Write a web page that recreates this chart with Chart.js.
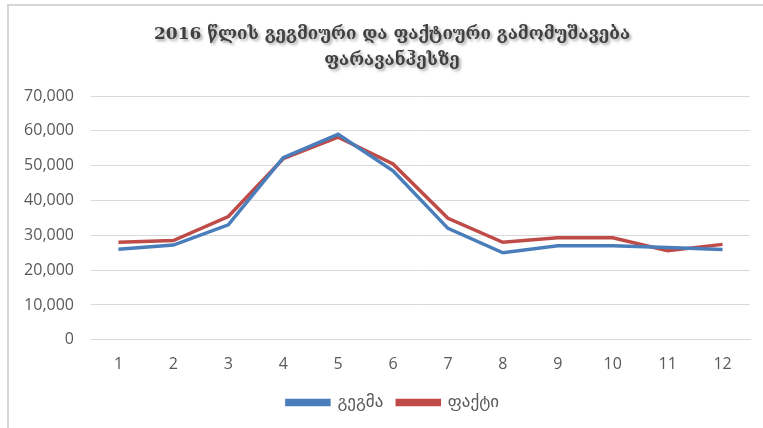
<!DOCTYPE html>
<html>
<head>
<meta charset="utf-8">
<script src="https://cdn.jsdelivr.net/npm/chart.js@4"></script>
<style>
  html, body { margin: 0; padding: 0; background: #fff; }
  #wrap { position: relative; width: 763px; height: 428px; overflow: hidden; }
  #frame { position: absolute; left: 7px; top: 4px; right: -5px; bottom: -5px;
           border-left: 2px solid #d6d6d6; border-top: 2px solid #d6d6d6; pointer-events: none; }
  canvas { position: absolute; left: 0; top: 0; }
</style>
</head>
<body>
<div id="wrap">
  <canvas id="c" width="763" height="428"></canvas>
  <div id="frame"></div>
</div>
<script>
const months = ['1','2','3','4','5','6','7','8','9','10','11','12'];
const planValues = [26000, 27200, 33000, 52300, 59000, 48500, 32000, 25000, 27000, 27000, 26500, 25900];
const factValues = [28000, 28500, 35400, 52000, 58200, 50500, 34900, 28000, 29300, 29300, 25600, 27400];
const seriesNames = ['გეგმა', 'ფაქტი'];
const titleLines = ['2016 წლის გეგმიური და ფაქტიური გამომუშავება', 'ფარავანჰესზე'];
const yMax = 70000;
const yStep = 10000;

function wrapDraw(chart, box, dx, dy, shadow) {
  if (!box) return;
  const orig = box.draw.bind(box);
  box.draw = function () {
    const ctx = chart.ctx;
    ctx.save();
    ctx.translate(dx, dy);
    if (shadow) {
      ctx.shadowColor = 'rgba(0,0,0,0.35)';
      ctx.shadowOffsetX = 2;
      ctx.shadowOffsetY = 2;
      ctx.shadowBlur = 3;
    }
    orig();
    ctx.restore();
  };
}

const boxShift = {
  id: 'boxShift',
  afterInit(chart) {
    wrapDraw(chart, chart.titleBlock, 17, 0, true);
    wrapDraw(chart, chart.legend, 18, -1, false);
  }
};

new Chart(document.getElementById('c'), {
  type: 'line',
  data: {
    labels: months,
    datasets: [
      { label: seriesNames[0], data: planValues, borderColor: '#4a7ebb', backgroundColor: '#4a7ebb',
        borderWidth: 3.5, pointRadius: 0, tension: 0, fill: false },
      { label: seriesNames[1], data: factValues, borderColor: '#be4b48', backgroundColor: '#be4b48',
        borderWidth: 3.5, pointRadius: 0, tension: 0, fill: false }
    ]
  },
  options: {
    responsive: false,
    animation: false,
    devicePixelRatio: 1,
    layout: { padding: { left: 0, right: 13, top: 4, bottom: 6 } },
    plugins: {
      title: {
        display: true,
        text: titleLines,
        color: '#404040',
        font: { family: 'DejaVu Serif', size: 17, weight: 'bold', lineHeight: 1.53 },
        padding: { top: 18, bottom: 22 }
      },
      legend: {
        position: 'bottom',
        labels: {
          color: '#595959',
          font: { family: 'DejaVu Sans', size: 17 },
          boxWidth: 42,
          boxHeight: 4,
          padding: 14
        }
      },
      tooltip: { enabled: false }
    },
    scales: {
      x: {
        offset: true,
        grid: { display: false, offset: true },
        border: { display: true, color: '#d9d9d9', width: 1 },
        ticks: { color: '#595959', font: { family: 'Open Sans', size: 16 }, padding: 7 }
      },
      y: {
        min: 0, max: yMax,
        afterFit(scale) { scale.width = 91; },
        grid: { color: '#d9d9d9', lineWidth: 1, drawTicks: false },
        border: { display: false },
        ticks: {
          stepSize: yStep,
          color: '#595959',
          font: { family: 'Open Sans', size: 16 },
          padding: 17,
          callback: v => v.toLocaleString('en-US')
        }
      }
    }
  },
  plugins: [boxShift]
});
</script>
</body>
</html>
